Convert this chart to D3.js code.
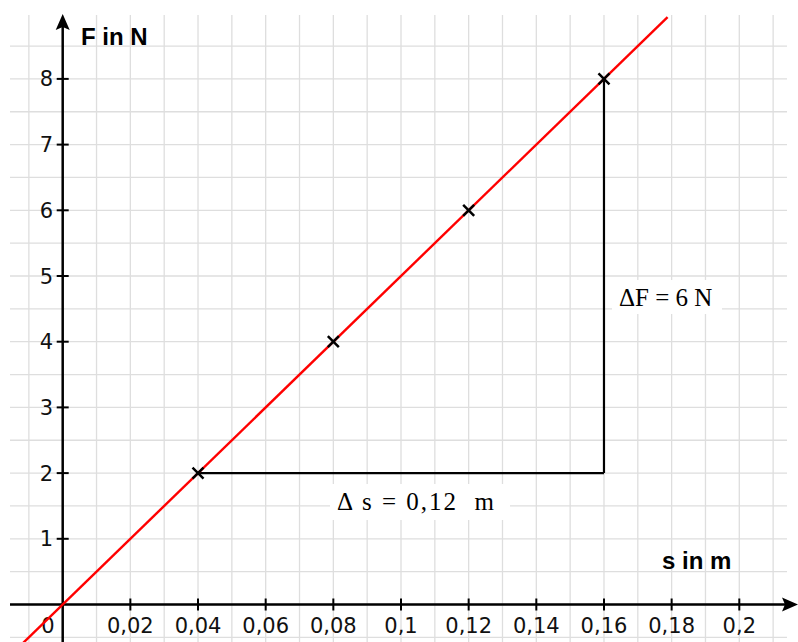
<!DOCTYPE html>
<html>
<head>
<meta charset="utf-8">
<script src="https://cdn.jsdelivr.net/npm/d3@7"></script>
<style>
  html, body { margin: 0; padding: 0; background: #fff; }
  svg { display: block; }
</style>
</head>
<body>
<div id="chart"></div>
<script>
// Measured values (s in m, F in N)
const sValues = [0.04, 0.08, 0.12, 0.16];
const fValues = [2, 4, 6, 8];
const xTicks = [0.02, 0.04, 0.06, 0.08, 0.1, 0.12, 0.14, 0.16, 0.18, 0.2];
const yTicks = [1, 2, 3, 4, 5, 6, 7, 8];
const xGrid = d3.range(-1, 22).map(i => i / 100);
const yGrid = d3.range(-1, 18).map(i => i / 2);

const W = 798, H = 642;

const svg = d3.select("#chart").append("svg")
  .attr("width", W).attr("height", H);

// scales: 0.01 m ~ 33.8 px, 1 N ~ 65.7 px
const x = d3.scaleLinear().domain([0, 0.2]).range([62.7, 739.3]);
const y = d3.scaleLinear().domain([0, 8]).range([604.5, 78.9]);

const fmt = d => String(d).replace(".", ",");

// grid
svg.append("g").selectAll("line").data(xGrid).enter().append("line")
  .attr("x1", d => x(d)).attr("x2", d => x(d))
  .attr("y1", 15).attr("y2", H)
  .attr("stroke", "#dedede").attr("stroke-width", 1.3);
svg.append("g").selectAll("line").data(yGrid).enter().append("line")
  .attr("x1", 10).attr("x2", 787)
  .attr("y1", d => y(d)).attr("y2", d => y(d))
  .attr("stroke", "#dedede").attr("stroke-width", 1.3);

// label backgrounds (hide grid behind the texts)
svg.append("rect").attr("x", 612).attr("y", 280).attr("width", 110).attr("height", 34).attr("fill", "#fff");
svg.append("rect").attr("x", 330).attr("y", 484).attr("width", 180).attr("height", 36).attr("fill", "#fff");

// slope triangle
const black = "#000";
svg.append("line")
  .attr("x1", x(sValues[0])).attr("y1", y(fValues[0]))
  .attr("x2", x(sValues[3])).attr("y2", y(fValues[0]))
  .attr("stroke", black).attr("stroke-width", 2.2);
svg.append("line")
  .attr("x1", x(sValues[3])).attr("y1", y(fValues[0]))
  .attr("x2", x(sValues[3])).attr("y2", y(fValues[3]))
  .attr("stroke", black).attr("stroke-width", 2.2);

// axes
svg.append("line").attr("x1", 10).attr("x2", 790).attr("y1", y(0)).attr("y2", y(0))
  .attr("stroke", black).attr("stroke-width", 2.5);
svg.append("path")
  .attr("d", `M798,${y(0)} L782,${y(0) - 7} L785,${y(0)} L782,${y(0) + 7} Z`)
  .attr("fill", black);
svg.append("line").attr("x1", x(0)).attr("x2", x(0)).attr("y1", H).attr("y2", 22)
  .attr("stroke", black).attr("stroke-width", 2.5);
svg.append("path")
  .attr("d", `M${x(0)},14 L${x(0) - 7},30 L${x(0)},27 L${x(0) + 7},30 Z`)
  .attr("fill", black);

// ticks
svg.append("g").selectAll("line").data(xTicks).enter().append("line")
  .attr("x1", d => x(d)).attr("x2", d => x(d))
  .attr("y1", y(0) - 6).attr("y2", y(0) + 6)
  .attr("stroke", black).attr("stroke-width", 2);
svg.append("g").selectAll("line").data(yTicks).enter().append("line")
  .attr("x1", x(0) - 6).attr("x2", x(0) + 6)
  .attr("y1", d => y(d)).attr("y2", d => y(d))
  .attr("stroke", black).attr("stroke-width", 2);

// tick labels
const tickFont = "'DejaVu Sans', Verdana, sans-serif";
svg.append("g").selectAll("text").data(xTicks).enter().append("text")
  .attr("x", d => x(d)).attr("y", 633)
  .attr("text-anchor", "middle")
  .attr("font-family", tickFont).attr("font-size", 21).attr("fill", "#111")
  .text(fmt);
svg.append("text").attr("x", 48).attr("y", 633).attr("text-anchor", "middle")
  .attr("font-family", tickFont).attr("font-size", 21).attr("fill", "#111").text("0");
svg.append("g").selectAll("text").data(yTicks).enter().append("text")
  .attr("x", 53).attr("y", d => y(d) + 7.5)
  .attr("text-anchor", "end")
  .attr("font-family", tickFont).attr("font-size", 21).attr("fill", "#111")
  .text(fmt);

// axis titles
svg.append("text").attr("x", 81).attr("y", 45)
  .attr("font-family", "'Liberation Sans', Arial, sans-serif").attr("font-weight", "bold")
  .attr("font-size", 24).text("F in N");
svg.append("text").attr("x", 662).attr("y", 569)
  .attr("font-family", "'Liberation Sans', Arial, sans-serif").attr("font-weight", "bold")
  .attr("font-size", 24).text("s in m");

// red fit line through origin
const slope = fValues[3] / sValues[3];
const lineEnds = [-0.02, 8.94 / slope];
svg.append("line")
  .attr("x1", x(lineEnds[0])).attr("y1", y(slope * lineEnds[0]))
  .attr("x2", x(lineEnds[1])).attr("y2", y(slope * lineEnds[1]))
  .attr("stroke", "#ff0000").attr("stroke-width", 2.4);

// measurement crosses
const r = 5.5;
const pts = sValues.map((s, i) => [x(s), y(fValues[i])]);
svg.append("g").selectAll("path").data(pts).enter().append("path")
  .attr("d", d => `M${d[0] - r},${d[1] - r}L${d[0] + r},${d[1] + r}M${d[0] - r},${d[1] + r}L${d[0] + r},${d[1] - r}`)
  .attr("stroke", black).attr("stroke-width", 2.5);

// annotations
svg.append("text").attr("x", 619).attr("y", 306)
  .attr("font-family", "'Liberation Serif', 'Times New Roman', serif")
  .attr("font-size", 25).text("ΔF = 6 N");
svg.append("text").attr("x", 337).attr("y", 510)
  .attr("font-family", "'Liberation Serif', 'Times New Roman', serif")
  .attr("font-size", 25).style("white-space", "pre")
  .attr("letter-spacing", 2)
  .text("Δ s = 0,12  m");
</script>
</body>
</html>
